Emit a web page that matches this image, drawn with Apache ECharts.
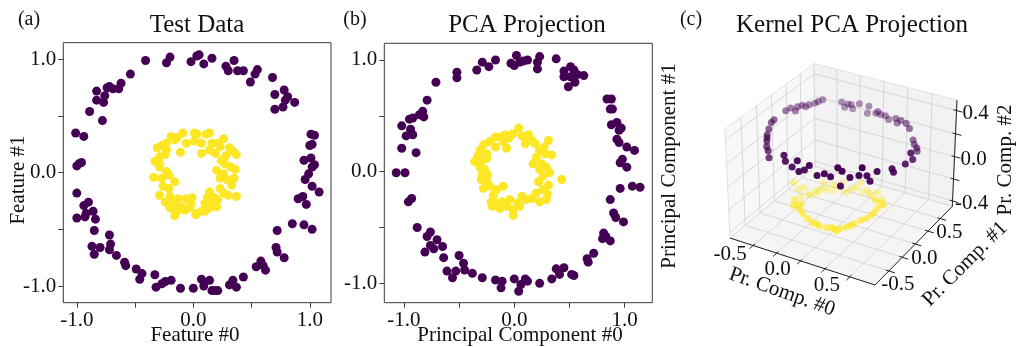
<!DOCTYPE html>
<html>
<head>
<meta charset="utf-8">
<script src="https://cdn.jsdelivr.net/npm/echarts@6/dist/echarts.min.js"></script>
<style>
html, body { margin: 0; padding: 0; background: #fff; }
#chart { width: 1018px; height: 347px; }
</style>
</head>
<body>
<div id="chart"></div>
<script>
// ---------- data ----------
// (a) test data: outer ring (class 0) and inner ring (class 1)
const testOuter = [[-0.41,0.99],[-0.23,0.97],[-0.20,1.02],[-0.02,0.98],[0.03,1.03],[0.05,1.04],[0.09,0.96],[0.16,1.01],[0.28,0.94],[0.30,0.90],[0.35,0.99],[0.38,0.90],[0.43,0.90],[0.55,0.91],[0.53,0.87],[0.49,0.80],[0.68,0.84],[0.70,0.69],[0.78,0.73],[0.81,0.67],[0.79,0.64],[0.77,0.58],[0.87,0.62],[0.70,0.56],[-0.54,0.87],[-0.62,0.79],[-0.64,0.74],[-0.69,0.74],[-0.72,0.76],[-0.74,0.75],[-0.83,0.72],[-0.83,0.64],[-0.76,0.68],[-0.77,0.62],[-0.89,0.54],[-0.78,0.46],[-1.01,0.35],[-0.94,0.32],[-0.98,0.08],[-1.00,0.06],[-0.96,0.09],[-1.00,-0.18],[-0.90,-0.26],[-0.94,-0.29],[-0.92,-0.36],[-1.00,-0.40],[-0.93,-0.39],[-0.86,-0.34],[-0.84,-0.41],[-0.85,-0.51],[-0.87,-0.65],[-0.80,-0.66],[-0.85,-0.72],[-0.72,-0.55],[-0.71,-0.63],[-0.72,-0.68],[-0.66,-0.73],[-0.59,-0.79],[-0.58,-0.82],[-0.49,-0.85],[-0.44,-0.89],[-0.46,-0.94],[-0.33,-0.90],[-0.32,-1.01],[-0.27,-0.98],[-0.24,-0.96],[-0.19,-0.95],[-0.11,-1.02],[0.00,-1.02],[0.07,-0.94],[0.09,-1.00],[0.14,-0.95],[0.16,-1.04],[0.19,-1.04],[0.21,-1.04],[0.31,-0.99],[0.34,-0.95],[0.37,-1.01],[0.43,-0.92],[0.58,-0.78],[0.60,-0.82],[0.62,-0.86],[0.54,-0.83],[0.71,-0.66],[0.72,-0.70],[0.78,-0.75],[0.72,-0.51],[0.85,-0.45],[0.95,-0.46],[1.02,-0.50],[0.90,-0.23],[0.94,-0.21],[0.97,-0.28],[1.02,-0.12],[1.08,-0.17],[0.96,-0.06],[0.99,-0.01],[1.02,0.05],[1.04,0.07],[0.95,0.11],[1.01,0.13],[1.00,0.24],[1.02,0.25],[1.01,0.34],[1.04,0.33]];
const testInner = [[-0.19,0.32],[-0.09,0.35],[0.01,0.35],[0.03,0.34],[0.11,0.34],[0.14,0.35],[-0.23,0.26],[-0.16,0.29],[-0.06,0.26],[0.01,0.28],[0.07,0.26],[0.16,0.26],[0.21,0.26],[0.23,0.23],[-0.31,0.22],[-0.23,0.20],[-0.11,0.18],[0.07,0.17],[0.14,0.20],[0.19,0.17],[0.34,0.19],[0.37,0.16],[-0.29,0.14],[-0.24,0.16],[-0.29,0.08],[0.24,0.11],[0.27,0.08],[0.32,0.05],[0.36,0.03],[-0.29,0.05],[-0.23,0.01],[-0.21,-0.02],[0.20,0.02],[0.26,-0.01],[-0.34,-0.04],[-0.27,-0.05],[-0.16,-0.08],[0.23,-0.05],[0.29,-0.06],[0.33,-0.11],[-0.26,-0.12],[-0.21,-0.14],[0.14,-0.17],[0.23,-0.14],[0.26,-0.18],[-0.29,-0.20],[-0.20,-0.21],[-0.13,-0.23],[-0.06,-0.23],[-0.01,-0.22],[0.21,-0.24],[0.37,-0.21],[-0.24,-0.26],[-0.17,-0.28],[-0.10,-0.30],[-0.03,-0.31],[0.10,-0.27],[0.16,-0.26],[0.20,-0.30],[-0.20,-0.31],[-0.14,-0.34],[-0.07,-0.33],[0.03,-0.36],[0.10,-0.34],[0.14,-0.31],[-0.16,-0.38],[0.02,-0.37],[0.07,-0.34],[0.31,0.22],[0.26,0.30],[-0.27,0.24],[-0.14,0.31],[0.30,-0.20],[0.12,-0.22],[-0.33,0.10],[0.28,0.15],[-0.02,-0.28],[0.35,-0.05],[0.18,-0.22]];

// (b) linear PCA projection
const pcaOuter = [[0.02,1.04],[-0.03,0.97],[0.00,0.95],[0.05,0.98],[0.08,0.99],[0.12,1.00],[0.23,1.03],[0.21,0.98],[0.21,0.92],[0.38,1.01],[0.45,0.90],[0.51,0.94],[0.54,0.91],[0.51,0.85],[0.57,0.87],[0.55,0.80],[0.63,0.86],[0.49,0.76],[0.45,0.85],[-0.17,1.00],[-0.23,0.94],[-0.29,0.98],[-0.34,0.91],[-0.52,0.89],[-0.52,0.84],[-0.71,0.80],[-0.79,0.64],[-0.83,0.54],[-0.86,0.51],[-0.82,0.49],[-0.92,0.48],[-0.95,0.47],[-1.02,0.41],[-0.94,0.38],[-0.98,0.32],[-0.92,0.33],[-1.02,0.21],[-0.89,0.17],[-1.07,-0.01],[-0.99,-0.01],[0.84,0.65],[0.88,0.65],[0.87,0.56],[0.89,0.56],[0.88,0.42],[0.93,0.44],[0.97,0.39],[0.95,0.37],[0.93,0.29],[0.95,0.26],[1.02,0.22],[1.09,0.19],[0.98,0.11],[0.96,0.08],[1.02,0.04],[-0.96,-0.27],[-0.93,-0.24],[-0.88,-0.50],[-0.76,-0.54],[-0.79,-0.58],[-0.70,-0.61],[-0.76,-0.66],[-0.73,-0.69],[-0.65,-0.67],[-0.81,-0.72],[-0.64,-0.77],[-0.50,-0.75],[-0.46,-0.82],[-0.61,-0.89],[-0.53,-0.89],[-0.45,-0.88],[-0.38,-0.91],[-0.56,-0.95],[-0.29,-0.95],[-0.17,-0.97],[-0.11,-0.98],[-0.12,-1.04],[0.00,-0.96],[0.10,-0.96],[0.12,-0.98],[0.06,-1.01],[0.04,-1.07],[0.23,-1.00],[0.34,-0.96],[0.38,-0.87],[0.45,-0.86],[0.41,-0.92],[0.52,-0.92],[0.54,-0.93],[0.66,-0.78],[0.67,-0.81],[0.72,-0.73],[0.81,-0.55],[0.83,-0.58],[0.80,-0.60],[0.87,-0.62],[0.90,-0.37],[0.92,-0.41],[0.99,-0.45],[0.87,-0.25],[0.96,-0.15],[1.07,-0.13],[1.14,-0.14]];
const pcaInner = [[0.04,0.39],[-0.01,0.34],[-0.08,0.33],[-0.13,0.31],[-0.17,0.31],[-0.22,0.27],[-0.28,0.24],[-0.31,0.19],[-0.25,0.16],[-0.17,0.22],[-0.10,0.27],[0.07,0.32],[0.13,0.33],[0.16,0.28],[0.10,0.25],[0.19,0.25],[0.31,0.28],[0.23,0.19],[0.28,0.16],[0.34,0.15],[0.20,0.13],[0.25,0.07],[0.17,0.07],[0.29,0.04],[0.23,0.02],[0.32,-0.01],[0.26,-0.04],[0.43,-0.07],[0.22,-0.09],[0.31,-0.12],[0.26,-0.16],[0.20,-0.19],[0.16,-0.24],[0.23,-0.27],[0.29,-0.25],[0.11,-0.25],[0.07,-0.22],[0.05,-0.31],[-0.01,-0.34],[-0.07,-0.31],[-0.04,-0.25],[-0.11,-0.27],[-0.16,-0.28],[-0.21,-0.27],[-0.13,-0.33],[-0.19,-0.21],[-0.16,-0.16],[-0.10,-0.13],[-0.22,-0.13],[-0.28,-0.15],[-0.25,-0.09],[-0.30,-0.07],[-0.24,-0.03],[-0.27,0.02],[-0.31,0.04],[-0.36,0.09],[-0.30,0.09],[-0.25,0.12],[-0.07,0.21],[-0.01,-0.39],[0.12,0.30],[-0.05,0.30],[0.27,0.22],[-0.33,0.14],[0.30,-0.20],[0.03,-0.28],[-0.20,-0.31],[-0.29,-0.02]];

// (c) kernel PCA projection: [pc0, pc1, pc2]
const kpcaOuter = [[-0.67,0.11,0.33],[-0.66,0.18,0.33],[-0.64,0.23,0.29],[-0.63,0.25,0.32],[-0.61,0.30,0.32],[-0.59,0.33,0.30],[-0.57,0.36,0.31],[-0.54,0.41,0.31],[-0.52,0.44,0.32],[-0.49,0.47,0.33],[-0.35,0.58,0.30],[-0.33,0.60,0.25],[-0.30,0.61,0.28],[-0.27,0.62,0.28],[-0.26,0.63,0.24],[-0.20,0.65,0.29],[-0.11,0.67,0.28],[-0.12,0.66,0.22],[-0.04,0.68,0.23],[-0.02,0.68,0.25],[0.01,0.68,0.23],[0.06,0.68,0.23],[0.10,0.67,0.21],[0.18,0.66,0.24],[0.20,0.65,0.21],[0.25,0.63,0.25],[0.32,0.60,0.25],[0.37,0.57,0.23],[0.43,0.53,0.16],[0.46,0.50,0.14],[0.51,0.45,0.14],[0.52,0.44,0.12],[0.68,0.00,0.32],[-0.67,-0.09,0.33],[-0.66,-0.15,0.33],[-0.65,-0.21,0.30],[-0.63,-0.27,0.28],[-0.60,-0.32,0.28],[-0.57,-0.37,0.28],[-0.54,-0.42,0.26],[-0.50,-0.46,0.25],[-0.46,-0.51,0.22],[-0.22,-0.64,0.35],[-0.20,-0.65,0.31],[-0.12,-0.67,0.29],[-0.06,-0.68,0.36],[0.01,-0.68,0.30],[0.06,-0.68,0.35],[0.13,-0.67,0.28],[0.19,-0.65,0.30],[0.24,-0.63,0.28],[0.32,-0.60,0.21],[0.30,-0.61,0.36],[0.33,-0.59,0.33],[0.39,-0.56,0.28],[0.45,-0.51,0.29],[0.47,-0.49,0.35],[0.50,-0.46,0.28],[0.52,-0.44,0.23],[0.56,-0.39,0.30],[0.63,-0.25,0.28],[0.64,-0.24,0.25],[0.67,-0.08,0.26],[0.68,0.04,0.25],[-0.04,-0.69,0.28]];
const kpcaInner = [[-0.28,-0.39,-0.15],[-0.23,-0.42,-0.17],[-0.20,-0.43,-0.20],[-0.16,-0.44,-0.22],[-0.10,-0.46,-0.24],[-0.05,-0.46,-0.26],[0.02,-0.46,-0.27],[0.08,-0.44,-0.28],[0.13,-0.43,-0.27],[0.17,-0.41,-0.30],[0.19,-0.39,-0.28],[0.24,-0.36,-0.27],[0.29,-0.31,-0.25],[0.33,-0.26,-0.23],[0.36,-0.21,-0.23],[0.38,-0.16,-0.22],[0.39,-0.12,-0.21],[0.40,-0.07,-0.19],[0.40,0.04,-0.21],[0.40,-0.02,-0.17],[0.39,-0.10,-0.11],[-0.48,-0.08,-0.18],[-0.48,0.01,-0.28],[-0.47,0.08,-0.29],[-0.45,0.14,-0.37],[-0.42,0.21,-0.36],[-0.37,0.27,-0.30],[-0.36,0.29,-0.36],[-0.31,0.33,-0.33],[-0.28,0.35,-0.34],[-0.23,0.38,-0.39],[-0.22,0.38,-0.31],[-0.16,0.40,-0.37],[-0.10,0.42,-0.34],[-0.05,0.42,-0.29],[0.02,0.42,-0.34],[0.07,0.41,-0.37],[0.15,0.38,-0.31],[0.23,0.33,-0.33],[-0.45,0.13,-0.38],[-0.42,0.19,-0.39],[-0.40,0.23,-0.38],[-0.39,0.25,-0.36],[-0.35,0.30,-0.39],[-0.30,0.34,-0.39],[-0.19,0.39,-0.41],[-0.12,0.41,-0.36],[-0.03,0.42,-0.37],[0.05,0.41,-0.36],[-0.48,0.04,-0.36],[-0.01,-0.46,-0.26],[0.15,-0.42,-0.28],[0.27,-0.33,-0.26],[-0.30,-0.38,-0.21],[-0.18,-0.44,-0.14]];

// axis ticks and limits
const ticks2d = [-1, -0.5, 0, 0.5, 1];
const labels2d = [-1, 0, 1];
const ticks3dXY = [-0.5, -0.25, 0, 0.25, 0.5];
const labels3dXY = [-0.5, 0, 0.5];
const ticks3dZ = [-0.4, -0.2, 0, 0.2, 0.4];
const labels3dZ = [-0.4, 0, 0.4];
const limA = { x: [-1.116, 1.182], y: [-1.147, 1.147] };
const limB = { x: [-1.178, 1.251], y: [-1.173, 1.149] };
const limC = { x: [-0.75, 0.75], y: [-0.75, 0.75], z: [-0.45, 0.49] };

const PURPLE = '#440154';
const YELLOW = '#fde725';
const FONT = 'Liberation Serif';
const TEXT = '#111';
const FRAME = '#3a3a3a';

// ---------- 3d projection (matplotlib style, elev 30, azim -60) ----------
const BOX = [1.143, 1.143, 0.857];
const DIST = 10;
const el = 30 * Math.PI / 180, az = -60 * Math.PI / 180;
const W = [Math.cos(el) * Math.cos(az), Math.cos(el) * Math.sin(az), Math.sin(el)];
let U = [-W[1], W[0], 0];
const nU = Math.hypot(U[0], U[1]);
U = [U[0] / nU, U[1] / nU, 0];
const V = [W[1] * U[2] - W[2] * U[1], W[2] * U[0] - W[0] * U[2], W[0] * U[1] - W[1] * U[0]];
const dot = (a, b) => a[0] * b[0] + a[1] * b[1] + a[2] * b[2];

function project(x, y, z) {
  const b = [
    ((x - limC.x[0]) / (limC.x[1] - limC.x[0]) - 0.5) * BOX[0],
    ((y - limC.y[0]) / (limC.y[1] - limC.y[0]) - 0.5) * BOX[1],
    ((z - limC.z[0]) / (limC.z[1] - limC.z[0]) - 0.5) * BOX[2]
  ];
  const dw = dot(b, W);
  const den = DIST - dw;
  return [dot(b, U) / den, dot(b, V) / den, dw];
}

// place the box so that two corners land where the figure has them
const cLo = project(limC.x[0], limC.y[0], limC.z[0]);
const cHi = project(limC.x[1], limC.y[1], limC.z[1]);
const SX = (957 - 730) / (cHi[0] - cLo[0]);
const SY = (238 - 100) / (cHi[1] - cLo[1]);
const OX = 730 - SX * cLo[0];
const OY = 238 + SY * cLo[1];
const gridC = { left: 700, top: 40, width: 318, height: 300 };

const [x0, x1] = limC.x, [y0, y1] = limC.y, [z0, z1] = limC.z;
function seg(a, b) {
  const p = project(a[0], a[1], a[2]), q = project(b[0], b[1], b[2]);
  return [p[0], p[1], q[0], q[1]];
}
function poly(pts) {
  const out = [];
  pts.forEach(function (c) { const p = project(c[0], c[1], c[2]); out.push(p[0], p[1]); });
  return out;
}

const paneData = [
  poly([[x0, y0, z0], [x0, y1, z0], [x0, y1, z1], [x0, y0, z1]]),
  poly([[x0, y1, z0], [x1, y1, z0], [x1, y1, z1], [x0, y1, z1]]),
  poly([[x0, y0, z0], [x1, y0, z0], [x1, y1, z0], [x0, y1, z0]])
];
const paneFill = ['rgba(242,242,242,0.5)', 'rgba(230,230,230,0.5)', 'rgba(236,236,236,0.5)'];

const gridLines = [];
ticks3dXY.forEach(function (v) {
  gridLines.push(seg([v, y0, z0], [v, y1, z0]));
  gridLines.push(seg([v, y1, z0], [v, y1, z1]));
  gridLines.push(seg([x0, v, z0], [x1, v, z0]));
  gridLines.push(seg([x0, v, z0], [x0, v, z1]));
});
ticks3dZ.forEach(function (v) {
  gridLines.push(seg([x0, y0, v], [x0, y1, v]));
  gridLines.push(seg([x0, y1, v], [x1, y1, v]));
});

const axisLines = [
  seg([x0, y0, z0], [x1, y0, z0]),
  seg([x1, y0, z0], [x1, y1, z0]),
  seg([x1, y1, z0], [x1, y1, z1])
];
ticks3dXY.forEach(function (v) {
  axisLines.push(seg([v, y0 + 0.03, z0], [v, y0 - 0.06, z0]));
  axisLines.push(seg([x1 - 0.03, v, z0], [x1 + 0.06, v, z0]));
});
ticks3dZ.forEach(function (v) {
  axisLines.push(seg([x1 - 0.03, y1, v], [x1 + 0.06, y1, v]));
});

const tickText = [];
const tickPos = [];
labels3dXY.forEach(function (v) {
  const p = project(v, y0, z0);
  tickPos.push([p[0], p[1]]);
  tickText.push({ text: v.toFixed(1), dx: -23, dy: 9 });
});
labels3dXY.forEach(function (v) {
  const p = project(x1, v, z0);
  tickPos.push([p[0], p[1]]);
  tickText.push({ text: v.toFixed(1), dx: 9, dy: 14 });
});
labels3dZ.forEach(function (v) {
  const p = project(x1, y1, v);
  tickPos.push([p[0], p[1]]);
  tickText.push({ text: v.toFixed(1), dx: 19, dy: 3 });
});

// points with matplotlib-like depth shading, far ones drawn first
const pts3d = [];
kpcaOuter.forEach(function (d) { pts3d.push({ p: project(d[0], d[1], d[2]), c: PURPLE }); });
kpcaInner.forEach(function (d) { pts3d.push({ p: project(d[0], d[1], d[2]), c: YELLOW }); });
const dws = pts3d.map(function (o) { return o.p[2]; });
const dMin = Math.min.apply(null, dws), dMax = Math.max.apply(null, dws);
pts3d.sort(function (a, b) { return a.p[2] - b.p[2]; });
const scatter3d = pts3d.map(function (o) {
  const t = (o.p[2] - dMin) / (dMax - dMin);
  return { value: [o.p[0], o.p[1]], itemStyle: { color: o.c, opacity: 0.3 + 0.7 * t } };
});

function lineRender(color, width) {
  return function (params, api) {
    const a = api.coord([api.value(0), api.value(1)]);
    const b = api.coord([api.value(2), api.value(3)]);
    return { type: 'line', shape: { x1: a[0], y1: a[1], x2: b[0], y2: b[1] },
      style: { stroke: color, lineWidth: width } };
  };
}

// ---------- 2d axes ----------
function ax2d(gi, lim) {
  return {
    type: 'value', gridIndex: gi, min: lim[0], max: lim[1],
    axisLine: { show: false, onZero: false },
    axisTick: { show: true, customValues: ticks2d, length: 5, lineStyle: { color: FRAME } },
    axisLabel: { customValues: labels2d, formatter: function (v) { return v.toFixed(1); },
      margin: 7, fontFamily: FONT, fontSize: 21, color: TEXT },
    splitLine: { show: false }
  };
}

const texts = [
  ['(a)', 29, 20, 20, 0], ['Test Data', 197, 25, 25, 0],
  ['(b)', 355, 20, 20, 0], ['PCA Projection', 527, 25, 25, 0],
  ['(c)', 691, 20, 20, 0], ['Kernel PCA Projection', 852, 25, 25, 0],
  ['Feature #0', 195, 335, 21, 0], ['Feature #1', 18, 180, 21, Math.PI / 2],
  ['Principal Component #0', 520, 335, 21, 0], ['Principal Component #1', 669, 166, 21, Math.PI / 2],
  ['Pr. Comp. #0', 782, 292, 21, -0.34], ['Pr. Comp. #1', 965, 264, 21, Math.PI / 4],
  ['Pr. Comp. #2', 1005, 160, 21, Math.PI / 2]
];

const chart = echarts.init(document.getElementById('chart'));
chart.setOption({
  animation: false,
  backgroundColor: '#fff',
  grid: [
    { left: 63.3, top: 42.7, width: 267.7, height: 260, show: true, borderColor: FRAME, borderWidth: 1 },
    { left: 384.3, top: 43.3, width: 268, height: 259.4, show: true, borderColor: FRAME, borderWidth: 1 },
    gridC
  ],
  xAxis: [
    ax2d(0, limA.x), ax2d(1, limB.x),
    { type: 'value', gridIndex: 2, show: false,
      min: (gridC.left - OX) / SX, max: (gridC.left + gridC.width - OX) / SX }
  ],
  yAxis: [
    ax2d(0, limA.y), ax2d(1, limB.y),
    { type: 'value', gridIndex: 2, show: false,
      min: (OY - gridC.top - gridC.height) / SY, max: (OY - gridC.top) / SY }
  ],
  graphic: texts.map(function (t) {
    return { type: 'text', x: t[1], y: t[2], rotation: t[4], silent: true,
      style: { text: t[0], fontFamily: FONT, fontSize: t[3], fill: TEXT, align: 'center', verticalAlign: 'middle' } };
  }),
  series: [
    { type: 'scatter', xAxisIndex: 0, yAxisIndex: 0, data: testOuter, symbolSize: 9, itemStyle: { color: PURPLE, opacity: 1 } },
    { type: 'scatter', xAxisIndex: 0, yAxisIndex: 0, data: testInner, symbolSize: 9, itemStyle: { color: YELLOW, opacity: 1 } },
    { type: 'scatter', xAxisIndex: 1, yAxisIndex: 1, data: pcaOuter, symbolSize: 9, itemStyle: { color: PURPLE, opacity: 1 } },
    { type: 'scatter', xAxisIndex: 1, yAxisIndex: 1, data: pcaInner, symbolSize: 9, itemStyle: { color: YELLOW, opacity: 1 } },
    { type: 'custom', xAxisIndex: 2, yAxisIndex: 2, clip: false, silent: true, data: paneData, z: 1,
      renderItem: function (params, api) {
        const pts = [];
        for (let k = 0; k < 4; k++) pts.push(api.coord([api.value(2 * k), api.value(2 * k + 1)]));
        return { type: 'polygon', shape: { points: pts },
          style: { fill: paneFill[params.dataIndex], stroke: 'rgba(215,215,215,0.9)', lineWidth: 0.8 } };
      } },
    { type: 'custom', xAxisIndex: 2, yAxisIndex: 2, clip: false, silent: true, data: gridLines, z: 2,
      renderItem: lineRender('#cfcfcf', 0.8) },
    { type: 'custom', xAxisIndex: 2, yAxisIndex: 2, clip: false, silent: true, data: axisLines, z: 3,
      renderItem: lineRender('#222', 1) },
    { type: 'custom', xAxisIndex: 2, yAxisIndex: 2, clip: false, silent: true, data: tickPos, z: 3,
      renderItem: function (params, api) {
        const p = api.coord([api.value(0), api.value(1)]);
        const L = tickText[params.dataIndex];
        return { type: 'text', x: p[0] + L.dx, y: p[1] + L.dy,
          style: { text: L.text, fontFamily: FONT, fontSize: 21, fill: TEXT, align: 'center', verticalAlign: 'middle' } };
      } },
    { type: 'scatter', xAxisIndex: 2, yAxisIndex: 2, data: scatter3d, symbolSize: 7, z: 4 }
  ]
});
</script>
</body>
</html>
